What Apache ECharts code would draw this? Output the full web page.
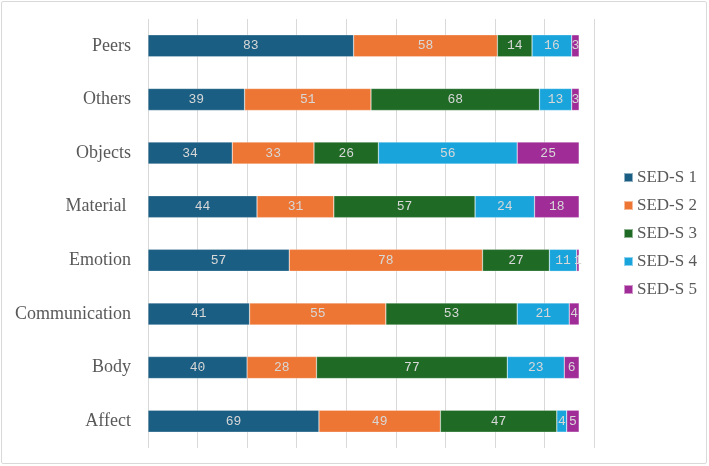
<!DOCTYPE html>
<html><head><meta charset="utf-8">
<script src="https://cdn.jsdelivr.net/npm/echarts@6/dist/echarts.min.js"></script>
<style>html,body{margin:0;padding:0;background:#fff}#c{width:709px;height:466px}
#frame{position:absolute;left:1px;top:1px;width:704px;height:461px;border:1px solid #d9d9d9;border-radius:2px;pointer-events:none}</style>
</head><body><div id="c"></div><div id="frame"></div>
<script>
const categories = ["Affect","Body","Communication","Emotion","Material ","Objects","Others","Peers"];
const seriesNames = ["SED-S 1","SED-S 2","SED-S 3","SED-S 4","SED-S 5"];
const s1 = [69,40,41,57,44,34,39,83];
const s2 = [49,28,55,78,31,33,51,58];
const s3 = [47,77,53,27,57,26,68,14];
const s4 = [4,23,21,11,24,56,13,16];
const s5 = [5,6,4,1,18,25,3,3];
const colors = ["#1b5e83","#ed7634","#1f6b26","#19a5dc","#a02c98"];
const values = [s1,s2,s3,s4,s5];

const chart = echarts.init(document.getElementById('c'));
chart.setOption({
  animation:false,
  grid:{left:148,right:115,top:19,bottom:18,containLabel:false},
  legend:{orient:'vertical',left:618,top:164,itemWidth:9,itemHeight:9,itemGap:11,icon:'rect',
    textStyle:{fontFamily:'Liberation Serif',fontSize:17,color:'#595959',padding:[0,0,0,-1]},data:seriesNames},
  xAxis:{type:'value',min:0,max:180,interval:20,axisLabel:{show:false},axisLine:{show:false},axisTick:{show:false},
    splitLine:{lineStyle:{color:'#d9d9d9',width:1}}},
  yAxis:{type:'category',data:categories,axisLine:{show:false},axisTick:{show:false},
    axisLabel:{fontFamily:'Liberation Serif',fontSize:18,color:'#595959',margin:17}},
  series: seriesNames.map((n,i)=>({
    name:n,type:'bar',stack:'total',data:values[i],barCategoryGap:'59%',
    itemStyle:{color:colors[i],borderColor:'rgba(255,255,255,0.5)',borderWidth:0.5},
    label:{show:true,position:'inside',fontFamily:'Liberation Mono',fontSize:13,color:'#d8d8d8'}
  }))
});
</script></body></html>
